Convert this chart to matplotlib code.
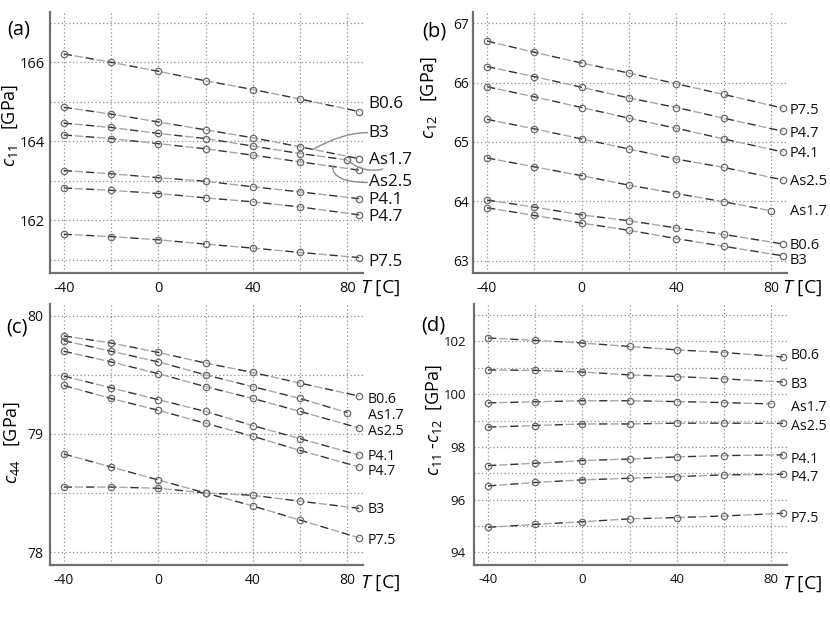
import matplotlib
matplotlib.use("Agg")
import matplotlib.pyplot as plt

plt.rcParams['font.family'] = ['Open Sans', 'DejaVu Sans']
plt.rcParams['mathtext.fontset'] = 'custom'
plt.rcParams['mathtext.rm'] = 'Open Sans'
plt.rcParams['mathtext.it'] = 'Open Sans:italic'

# ---------------- data ----------------
T = [-40, -20, 0, 20, 40, 60, 85]
T_as17 = [-40, -20, 0, 20, 40, 60, 80]
names = ["B0.6", "B3", "As1.7", "As2.5", "P4.1", "P4.7", "P7.5"]

# (a) c11 [GPa]
c11_B06 = [166.21, 166.00, 165.77, 165.53, 165.31, 165.07, 164.75]
c11_B3 = [164.86, 164.69, 164.49, 164.29, 164.09, 163.86, 163.56]
c11_As17 = [164.46, 164.35, 164.20, 164.07, 163.88, 163.69, 163.53]
c11_As25 = [164.16, 164.07, 163.94, 163.81, 163.65, 163.48, 163.27]
c11_P41 = [163.26, 163.18, 163.08, 162.99, 162.85, 162.72, 162.55]
c11_P47 = [162.82, 162.76, 162.68, 162.57, 162.47, 162.34, 162.14]
c11_P75 = [161.65, 161.59, 161.51, 161.40, 161.30, 161.19, 161.06]

# (b) c12 [GPa]
c12_B06 = [64.02, 63.90, 63.77, 63.67, 63.55, 63.44, 63.28]
c12_B3 = [63.89, 63.76, 63.63, 63.51, 63.37, 63.24, 63.08]
c12_As17 = [64.73, 64.58, 64.43, 64.27, 64.13, 63.99, 63.84]
c12_As25 = [65.38, 65.22, 65.05, 64.88, 64.71, 64.57, 64.36]
c12_P41 = [65.93, 65.76, 65.58, 65.40, 65.23, 65.05, 64.83]
c12_P47 = [66.27, 66.10, 65.92, 65.74, 65.58, 65.40, 65.18]
c12_P75 = [66.70, 66.51, 66.33, 66.16, 65.98, 65.80, 65.57]

# (c) c44 [GPa]
c44_B06 = [79.83, 79.77, 79.69, 79.60, 79.52, 79.43, 79.32]
c44_B3 = [78.55, 78.55, 78.54, 78.50, 78.48, 78.43, 78.37]
c44_As17 = [79.79, 79.70, 79.61, 79.50, 79.40, 79.30, 79.18]
c44_As25 = [79.70, 79.61, 79.51, 79.40, 79.30, 79.19, 79.05]
c44_P41 = [79.49, 79.39, 79.29, 79.19, 79.07, 78.96, 78.82]
c44_P47 = [79.41, 79.30, 79.20, 79.09, 78.98, 78.86, 78.72]
c44_P75 = [78.83, 78.72, 78.61, 78.50, 78.39, 78.27, 78.12]

# (d) c11 - c12 [GPa]
d_B06 = [102.13, 102.04, 101.94, 101.81, 101.68, 101.58, 101.41]
d_B3 = [100.92, 100.90, 100.84, 100.73, 100.67, 100.58, 100.46]
d_As17 = [99.67, 99.71, 99.75, 99.75, 99.72, 99.68, 99.63]
d_As25 = [98.75, 98.81, 98.87, 98.87, 98.90, 98.90, 98.89]
d_P41 = [97.29, 97.38, 97.48, 97.54, 97.62, 97.67, 97.70]
d_P47 = [96.52, 96.65, 96.75, 96.81, 96.87, 96.94, 96.96]
d_P75 = [94.95, 95.06, 95.16, 95.27, 95.32, 95.38, 95.48]

# label y positions (data units) next to line ends
lab_a = [164.94, 164.22, 163.54, 162.96, 162.52, 162.08, 160.95]
lab_b = [63.25, 63.00, 63.82, 64.33, 64.81, 65.15, 65.53]
lab_c = [79.29, 78.36, 79.16, 79.02, 78.81, 78.68, 78.10]
lab_d = [101.46, 100.36, 99.51, 98.77, 97.54, 96.84, 95.28]

xticks = [-40, -20, 0, 20, 40, 60, 80]
xticklabels = ["-40", "", "0", "", "40", "", "80"]

W, H = 830, 623
fig = plt.figure(figsize=(W / 100, H / 100), dpi=100)


def rect(l, t, r, b):
    return [l / W, 1 - b / H, (r - l) / W, (b - t) / H]


def fxy(x, y):
    return (x / W, 1 - y / H)


def style(ax, ylim, yticks, ylabels, ypad, tsize):
    ax.set_xlim(-45.8, 86.6)
    ax.set_ylim(*ylim)
    ax.set_xticks(xticks)
    ax.set_xticklabels(xticklabels)
    ax.set_yticks(yticks)
    ax.set_yticklabels(ylabels)
    for s in ["top", "right"]:
        ax.spines[s].set_visible(False)
    for s in ["left", "bottom"]:
        ax.spines[s].set_color("#707070")
        ax.spines[s].set_linewidth(1.6)
    ax.tick_params(axis="both", length=0, labelsize=tsize, colors="#111111")
    ax.tick_params(axis="x", pad=6)
    ax.tick_params(axis="y", pad=ypad)
    ax.grid(True, linestyle=(0, (1, 2)), color="#909090", linewidth=0.9)
    ax.set_axisbelow(True)


def series(ax, x, y):
    ax.plot(x, y, color="#333333", lw=1.0, ls=(0, (6, 10)))
    ax.plot(x, y, color="#a8a8a8", lw=1.0, ls=(8, (6, 10)))
    ax.plot(x, y, ls="none", marker="o", ms=4.6, mfc="none",
            mec="#6a6a6a", mew=0.9)


def draw(ax, data, labx, laby, lsize):
    for nm, y, ly in zip(names, data, laby):
        x = T_as17 if nm == "As1.7" else T
        series(ax, x, y)
        ax.text(labx, ly, nm, fontsize=lsize, va="center", ha="left",
                color="#111111", clip_on=False)


# ---- (a)
axa = fig.add_axes(rect(50, 12, 363, 273))
style(axa, (160.67, 167.27), [161, 162, 163, 164, 165, 166, 167],
      ["", "162", "", "164", "", "166", ""], 4, 10.5)
draw(axa, [c11_B06, c11_B3, c11_As17, c11_As25, c11_P41, c11_P47, c11_P75],
     89.0, lab_a, 12.3)
lc = dict(arrowstyle="-", color="#8c8c8c", lw=1.0)
axa.annotate("", xy=(65.3, 163.79), xytext=(88.5, 164.22),
             arrowprops=dict(**lc, connectionstyle="angle3,angleA=0,angleB=30",
                             shrinkA=0, shrinkB=0), annotation_clip=False)
axa.annotate("", xy=(73.7, 163.37), xytext=(88.5, 162.96),
             arrowprops=dict(**lc, connectionstyle="angle3,angleA=0,angleB=90",
                             shrinkA=0, shrinkB=0), annotation_clip=False)
axa.annotate("", xy=(80.6, 163.50), xytext=(95.0, 163.30),
             arrowprops=dict(**lc, connectionstyle="arc3,rad=-0.25",
                             shrinkA=0, shrinkB=0), annotation_clip=False)

# ---- (b)
axb = fig.add_axes(rect(473.3, 12, 786.7, 273))
style(axb, (62.79, 67.19), [63, 64, 65, 66, 67],
      ["63", "64", "65", "66", "67"], 3, 10)
draw(axb, [c12_B06, c12_B3, c12_As17, c12_As25, c12_P41, c12_P47, c12_P75],
     87.8, lab_b, 10.5)

# ---- (c)
axc = fig.add_axes(rect(50, 304, 363, 565))
style(axc, (77.89, 80.10), [78, 78.5, 79, 79.5, 80],
      ["78", "", "79", "", "80"], 5, 10)
draw(axc, [c44_B06, c44_B3, c44_As17, c44_As25, c44_P41, c44_P47, c44_P75],
     88.6, lab_c, 10.2)

# ---- (d)
axd = fig.add_axes(rect(474.3, 304, 786.7, 565))
style(axd, (93.52, 103.42), list(range(94, 104)),
      ["94", "", "96", "", "98", "", "100", "", "102", ""], 6, 9.5)
draw(axd, [d_B06, d_B3, d_As17, d_As25, d_P41, d_P47, d_P75],
     88.3, lab_d, 10.2)

# ---- panel letters
for lbl, (x, y) in zip(["(a)", "(b)", "(c)", "(d)"],
                       [(19, 30), (434, 31), (17, 327), (433, 325)]):
    fig.text(*fxy(x, y), lbl, fontsize=14.5, ha="center", va="center")

# ---- y labels
ylabs = [r"$c_{11}$   [GPa]", r"$c_{12}$   [GPa]", r"$c_{44}$   [GPa]",
         r"$c_{11}$ -$c_{12}$  [GPa]"]
ylpos = [(10, 125), (429, 97), (12, 442), (434, 420)]
for lbl, (x, y) in zip(ylabs, ylpos):
    fig.text(*fxy(x, y), lbl, fontsize=13, rotation=90,
             ha="center", va="center")

# ---- x labels
for (x, y) in [(360, 288), (781.7, 288), (360, 583), (781.7, 584)]:
    fig.text(*fxy(x, y), r"$T$ [C]", fontsize=14, ha="left", va="center")

fig.savefig("out.png", dpi=100)
